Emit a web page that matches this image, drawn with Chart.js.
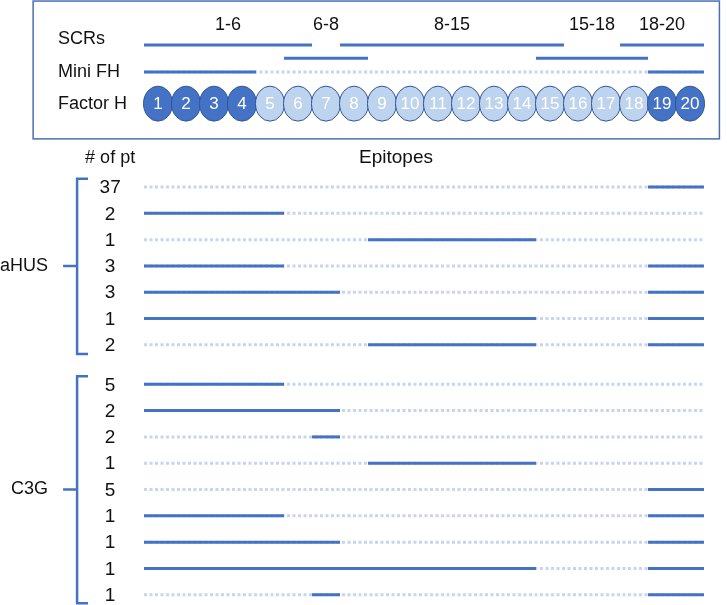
<!DOCTYPE html>
<html>
<head>
<meta charset="utf-8">
<script src="https://cdn.jsdelivr.net/npm/chart.js@4.4.1/dist/chart.umd.min.js"></script>
<style>
html, body { margin: 0; padding: 0; background: #fff; }
#chart { display: block; }
</style>
</head>
<body>
<canvas id="chart" width="727" height="605"></canvas>
<script>
// Factor H domains (SCR 1-20); dark ones are those kept in mini FH
const domains = [1,2,3,4,5,6,7,8,9,10,11,12,13,14,15,16,17,18,19,20];
const darkDomains = [1,2,3,4,19,20];

// SCR fragments used for mapping
const scrLabels = ['1-6','6-8','8-15','15-18','18-20'];
const scrRanges = [[1,6],[6,8],[8,15],[15,18],[18,20]];
const scrLevel = [0,1,0,1,0];

const miniFH = [[1,4],[19,20]];

// epitopes per patient group (ranges of SCR domains)
const aHUSCounts = [37,2,1,3,3,1,2];
const aHUSEpitopes = [
    [[19,20]],
    [[1,5]],
    [[9,14]],
    [[1,5],[19,20]],
    [[1,7],[19,20]],
    [[1,14],[19,20]],
    [[9,14],[19,20]]
];
const c3gCounts = [5,2,2,1,5,1,1,1,1];
const c3gEpitopes = [
    [[1,5]],
    [[1,7]],
    [[7,7]],
    [[9,14]],
    [[19,20]],
    [[1,5],[19,20]],
    [[1,7],[19,20]],
    [[1,14],[19,20]],
    [[7,7],[19,20]]
];

// layout (y in row units, x in domain units)
const Y = { scrText: -6.17, scrs: -5.63, scrA: -5.40, scrB: -4.90, mini: -4.37, fh: -3.17, header: -1.10,
            boxTop: -7.07, boxBottom: -1.83 };
const C3G_OFFSET = 7.5;
const X = { leftText: -3.07, counts: -1.21, epitopes: 9, group: -3.43, bracket: -2.39, bracketIn: -2.0, bracketOut: -2.89,
            boxLeft: -3.96, boxRight: 20.55 };

const BLUE = '#4472c4';
const LIGHT = '#c7d5ee';
const FONT = '"Liberation Sans", Arial, sans-serif';

function seg(x0, x1, y, dotted) {
    return {
        data: [{x: x0, y: y}, {x: x1, y: y}],
        showLine: true,
        borderColor: dotted ? LIGHT : BLUE,
        borderWidth: 3,
        borderDash: dotted ? [3, 2.5] : [],
        borderCapStyle: 'butt',
        pointRadius: 0,
        clip: false,
        order: dotted ? 2 : 1
    };
}

const datasets = [];
scrRanges.forEach((r, i) => datasets.push(seg(r[0]-1, r[1], scrLevel[i] ? Y.scrB : Y.scrA, false)));
datasets.push(seg(0, 20, Y.mini, true));
miniFH.forEach(r => datasets.push(seg(r[0]-1, r[1], Y.mini, false)));

const rows = [];
aHUSEpitopes.forEach((e, i) => rows.push({y: i, ranges: e, count: aHUSCounts[i]}));
c3gEpitopes.forEach((e, i) => rows.push({y: C3G_OFFSET + i, ranges: e, count: c3gCounts[i]}));
rows.forEach(row => {
    datasets.push(seg(0, 20, row.y, true));
    row.ranges.forEach(r => datasets.push(seg(r[0]-1, r[1], row.y, false)));
});

// domain centres, drawn as ellipses by the plugin below
datasets.push({
    data: domains.map(d => ({x: d - 0.5, y: Y.fh})),
    pointRadius: 0,
    domainSet: true,
    order: 0
});

const labelsPlugin = {
    id: 'labels',
    afterDatasetsDraw(chart) {
        const ctx = chart.ctx;
        const xs = chart.scales.x, ys = chart.scales.y;
        const px = v => xs.getPixelForValue(v), py = v => ys.getPixelForValue(v);
        ctx.save();

        // box around the SCR map
        ctx.strokeStyle = '#4a6fb5';
        ctx.lineWidth = 1.5;
        ctx.strokeRect(px(X.boxLeft), py(Y.boxTop), px(X.boxRight) - px(X.boxLeft), py(Y.boxBottom) - py(Y.boxTop));

        // Factor H domains
        const di = chart.data.datasets.findIndex(d => d.domainSet);
        const meta = chart.getDatasetMeta(di);
        const rx = (px(1) - px(0)) / 2 + 0.5;
        const ry = 17.5;
        meta.data.forEach((pt, i) => {
            ctx.beginPath();
            ctx.ellipse(pt.x, pt.y, rx, ry, 0, 0, Math.PI * 2);
            ctx.fillStyle = darkDomains.includes(domains[i]) ? BLUE : '#bed3ee';
            ctx.fill();
            ctx.lineWidth = 1;
            ctx.strokeStyle = '#2f5597';
            ctx.stroke();
        });
        ctx.fillStyle = '#fff';
        ctx.font = '17px "Liberation Sans Narrow", ' + FONT;
        ctx.textAlign = 'center';
        ctx.textBaseline = 'middle';
        meta.data.forEach((pt, i) => ctx.fillText(String(domains[i]), pt.x, pt.y + 1));

        // texts
        ctx.fillStyle = '#111';
        ctx.font = '18px ' + FONT;
        scrLabels.forEach((l, i) => ctx.fillText(l, px((scrRanges[i][0] - 1 + scrRanges[i][1]) / 2), py(Y.scrText)));
        ctx.fillText('# of pt', px(X.counts), py(Y.header));
        ctx.font = '19px ' + FONT;
        ctx.fillText('Epitopes', px(X.epitopes), py(Y.header));
        rows.forEach(r => ctx.fillText(String(r.count), px(X.counts), py(r.y) + 1));
        ctx.font = '18px ' + FONT;
        ctx.textAlign = 'left';
        ctx.fillText('SCRs', px(X.leftText), py(Y.scrs));
        ctx.fillText('Mini FH', px(X.leftText), py(Y.mini));
        ctx.fillText('Factor H', px(X.leftText), py(Y.fh));
        ctx.textAlign = 'right';

        // group brackets
        const groups = [
            {name: 'aHUS', top: -0.31, bottom: 6.35, mid: 3},
            {name: 'C3G', top: C3G_OFFSET - 0.31, bottom: C3G_OFFSET + 8.32, mid: C3G_OFFSET + 4}
        ];
        ctx.strokeStyle = BLUE;
        ctx.lineWidth = 2.5;
        groups.forEach(g => {
            ctx.beginPath();
            ctx.moveTo(px(X.bracketIn), py(g.top));
            ctx.lineTo(px(X.bracket), py(g.top));
            ctx.lineTo(px(X.bracket), py(g.bottom));
            ctx.lineTo(px(X.bracketIn), py(g.bottom));
            ctx.moveTo(px(X.bracket), py(g.mid));
            ctx.lineTo(px(X.bracketOut), py(g.mid));
            ctx.stroke();
            ctx.fillText(g.name, px(X.group), py(g.mid));
        });
        ctx.restore();
    }
};

new Chart(document.getElementById('chart'), {
    type: 'scatter',
    data: { datasets: datasets },
    options: {
        responsive: false,
        animation: false,
        layout: { padding: 0 },
        scales: {
            x: { type: 'linear', min: -5.143, max: 20.821, display: false },
            y: { type: 'linear', min: -7.11, max: 15.89, reverse: true, display: false }
        },
        plugins: { legend: { display: false }, tooltip: { enabled: false } }
    },
    plugins: [labelsPlugin]
});
</script>
</body>
</html>
